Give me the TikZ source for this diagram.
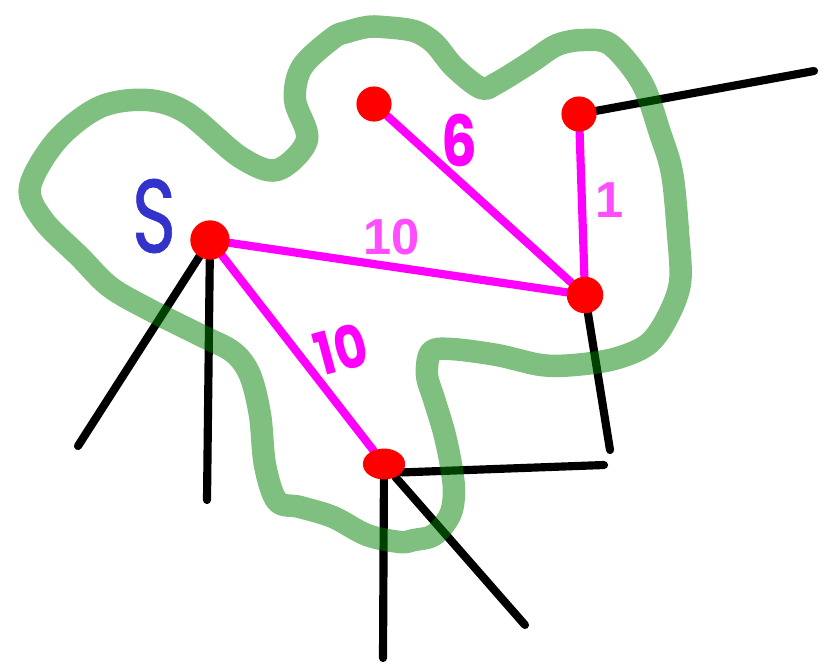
\documentclass[tikz,border=0pt]{standalone}
\usepackage{fontspec}
\usetikzlibrary{backgrounds,shapes.geometric}
\newfontfamily\handfont{Poppins}
\newfontfamily\srcfont{Poppins}[FakeBold=0.8]
\newfontfamily\typefont{Liberation Sans}
\definecolor{edgepink}{HTML}{FF00FF}
\definecolor{labelpink}{HTML}{FF4DFF}
\definecolor{inkblue}{HTML}{3333CC}
\definecolor{regiongreen}{RGB}{0,128,0}
\tikzset{
  vertex/.style={circle, fill=red, inner sep=0pt, minimum size=25pt},
  treeedge/.style={draw=black, line width=5.8pt, line cap=round},
  cutedge/.style={draw=edgepink, line width=5.8pt, line cap=round},
  region/.style={draw=regiongreen, draw opacity=0.5, line width=16pt, line cap=round, line join=round},
  typed/.style={text=labelpink, font=\typefont\bfseries\fontsize{36}{36}\selectfont, inner sep=0pt},
  handwritten/.style={text=edgepink, inner sep=0pt},
}
\begin{document}
\begin{tikzpicture}[x=0.025cm, y=-0.025cm]
\useasboundingbox (0,0) rectangle (828,665);

% vertices
\node[vertex, minimum size=28pt] (s) at (210,240) {};
\node[vertex] (tl) at (374,104) {};
\node[vertex] (tr) at (579,114) {};
\node[vertex, minimum size=26pt] (cr) at (585,295) {};
\node[vertex, ellipse, minimum width=30pt, minimum height=22pt] (b) at (384,464) {};

% loose ends of the outgoing edges
\coordinate (trout) at (814,71);
\coordinate (crout) at (610,450);
\coordinate (bright) at (604,465);
\coordinate (bdown) at (383,658);
\coordinate (bdiag) at (525,625);
\coordinate (sleft) at (78,446);
\coordinate (sdown) at (207,500);

\begin{scope}[on background layer]
  % edges leaving the region
  \draw[treeedge] (tr) -- (trout);
  \draw[treeedge] (cr) -- (crout);
  \draw[treeedge] (b.-25) -- (bright);
  \draw[treeedge] (b) -- (bdown);
  \draw[treeedge] (b) -- (bdiag);
  \draw[treeedge] (s) -- (sleft);
  \draw[treeedge] (s) -- (sdown);
  % weighted edges
  \draw[cutedge] (s) -- (cr);
  \draw[cutedge] (tl) -- (cr);
  \draw[cutedge] (tr) -- (cr);
  \draw[cutedge] (s) -- (b);
\end{scope}

% region boundary
\draw[region] plot[smooth cycle, tension=0.55] coordinates {
  (347,32) (367,27) (383,27) (414,31) (434,43) (454,67) (481,88) (497,83) (531,62)
  (557,45) (584,40) (611,45) (642,83) (660,133) (672,173) (678,233)
  (680,283) (666,320) (647,345) (614,359) (574,365) (541,365) (497,355)
  (451,349) (431,352) (427,375) (434,399) (444,432) (451,465) (454,492)
  (450,515) (434,535) (414,540) (400,542) (367,535) (333,517) (300,507)
  (277,501) (265,465) (260,415) (250,375) (233,352) (200,335) (150,310)
  (110,287) (80,257) (43,220) (30,187) (57,140) (100,107) (147,100)
  (187,113) (240,157) (277,170) (307,140) (295,100) (302,67) (333,38)
};

% weights and source label
\node[handwritten, xscale=0.8, font=\handfont\bfseries\fontsize{50}{50}\selectfont] (w6) at (459,140) {6};
\node[typed] (w1) at (610,200) {1};
\node[typed] (w10a) at (392,237) {10};
\node[handwritten, rotate=15, xscale=0.85, font=\handfont\bfseries\fontsize{42}{42}\selectfont] (w10b) at (341,349) {10};
\node[text=inkblue, font=\srcfont\fontsize{74}{74}\selectfont, xscale=0.72, inner sep=0pt] (src) at (154,216) {S};
\end{tikzpicture}
\end{document}
